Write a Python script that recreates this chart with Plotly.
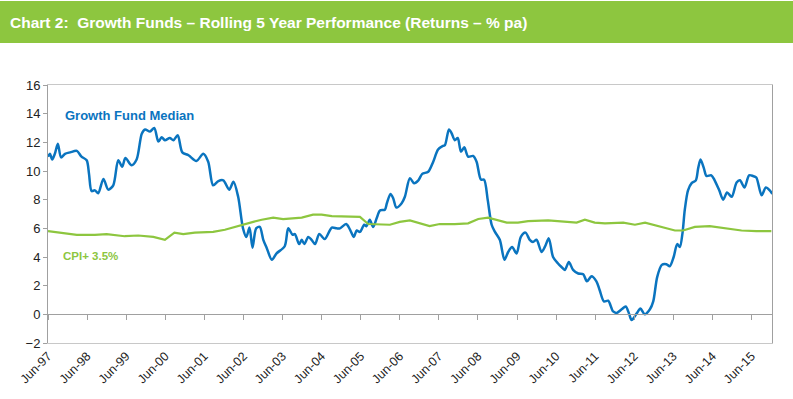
import plotly.graph_objects as go
import pandas as pd

# ---- data (months since Jun-1997, value % pa) ----
fund_months = [0, 0.6, 1.3, 2.1, 3.0, 4.0, 5.2, 6.8, 8.8, 10.3, 11.9, 12.6, 13.4, 14.4, 15.4, 17.0, 18.5, 20.0,
               21.6, 22.8, 23.8, 25.7, 27.2, 28.8, 29.8, 31.3, 32.6, 33.9, 34.9, 35.9, 37.4, 38.5, 39.8, 41.2,
               43.1, 45.6, 47.7, 49.2, 50.7, 52.3, 53.8, 55.6, 56.9, 58.4, 59.9, 60.9, 61.9, 62.8, 63.9, 65.0,
               66.1, 67.1, 68.7, 70.2, 72.7, 73.8, 75.1, 75.8, 77.1, 77.9, 78.7, 79.9, 80.9, 82.0, 83.3, 85.0,
               87.1, 88.6, 89.6, 91.5, 92.7, 93.9, 94.8, 95.8, 97.1, 97.8, 98.8, 99.8, 100.9, 101.9, 103.4,
               104.0, 105.2, 106.0, 107.0, 108.6, 109.6, 111.1, 112.4, 113.7, 114.9, 116.7, 118.3, 119.8,
               121.3, 121.9, 123.1, 123.9, 124.9, 125.8, 126.8, 127.8, 129.0, 130.5, 131.6, 132.9, 133.9,
               135.0, 136.2, 137.2, 138.7, 140.1, 141.3, 142.5, 143.9, 145.2, 146.6, 147.9, 148.9, 150.0,
               151.5, 152.5, 153.8, 155.1, 156.6, 157.7, 158.7, 159.9, 161.2, 162.8, 164.3, 165.5, 166.9,
               168.4, 169.4, 170.7, 172.0, 173.5, 174.6, 176.1, 177.4, 178.4, 179.2, 180.7, 181.9, 183.2,
               184.8, 185.8, 187.0, 188.4, 189.9, 190.9, 192.1, 193.2, 194.0, 194.8, 195.5, 196.5, 197.6,
               198.9, 199.6, 200.3, 201.4, 202.2, 203.7, 204.7, 206.1, 207.3, 208.5, 209.9, 211.4, 212.4,
               213.9, 215.3, 216.5, 217.5, 219.1, 220.4, 221.6, 222.4]
fund_values = [11.0, 11.2, 10.8, 11.2, 11.9, 10.95, 11.2, 11.3, 11.4, 11.0, 10.75, 9.8, 8.6, 8.65, 8.45, 9.45,
               8.7, 9.0, 10.75, 10.3, 10.9, 10.4, 10.8, 12.6, 12.9, 12.75, 13.0, 12.05, 12.35, 12.15, 12.3,
               12.15, 12.5, 11.3, 11.1, 10.7, 11.2, 10.65, 9.0, 9.3, 9.35, 8.7, 9.25, 8.2, 6.0, 5.4, 6.05,
               4.65, 6.0, 6.1, 5.2, 4.65, 3.8, 4.25, 4.75, 6.0, 5.55, 5.6, 4.9, 5.2, 4.9, 5.4, 5.2, 4.9, 5.6,
               5.25, 6.05, 6.0, 6.0, 6.3, 5.9, 5.4, 5.85, 5.75, 6.25, 6.15, 6.6, 6.1, 6.7, 7.25, 7.3, 7.75,
               8.4, 8.1, 7.45, 7.75, 8.2, 9.5, 9.15, 9.35, 9.8, 9.95, 10.65, 11.5, 11.75, 11.8, 12.9, 12.65,
               12.15, 12.3, 11.35, 11.65, 11.0, 11.05, 10.65, 9.4, 9.4, 7.95, 6.25, 5.75, 5.2, 3.8, 4.35, 4.7,
               4.25, 5.4, 5.7, 5.2, 5.05, 5.2, 4.35, 4.7, 5.3, 4.0, 3.55, 3.3, 3.1, 3.65, 3.1, 2.85, 2.8, 2.3,
               2.65, 2.3, 1.7, 0.9, 0.95, 0.2, 0.1, 0.35, 0.55, 0.05, -0.4, 0.05, 0.4, 0.0, 0.35, 0.9, 2.6,
               3.45, 3.5, 3.35, 4.0, 4.9, 4.7, 5.65, 7.3, 8.65, 9.15, 9.35, 10.2, 10.8, 10.2, 9.65, 9.7, 9.35,
               8.65, 8.0, 8.5, 8.2, 9.2, 9.35, 8.85, 9.7, 9.65, 9.55, 8.3, 8.85, 8.65, 8.4]

cpi_months = [0, 5.2, 8.8, 14.4, 18.0, 23.6, 27.7, 32.3, 35.9, 38.8, 41.5, 45.1, 50.7, 54.3, 59.5, 63.0, 65.6,
              69.2, 72.2, 77.9, 81.4, 84.0, 87.1, 91.7, 95.8, 98.3, 100.9, 105.0, 108.0, 111.1, 117.2, 120.3,
              124.9, 129.0, 132.1, 135.1, 140.8, 144.3, 147.4, 153.6, 162.3, 164.8, 167.9, 171.0, 176.6,
              180.2, 183.3, 187.9, 192.5, 195.0, 198.6, 203.2, 208.3, 212.9, 217.5, 222.1]
cpi_values = [5.8, 5.65, 5.55, 5.55, 5.6, 5.45, 5.5, 5.4, 5.2, 5.7, 5.6, 5.7, 5.75, 5.9, 6.25, 6.45, 6.6,
              6.75, 6.65, 6.75, 6.95, 6.95, 6.85, 6.85, 6.8, 6.3, 6.3, 6.25, 6.45, 6.55, 6.15, 6.3, 6.3,
              6.35, 6.65, 6.75, 6.4, 6.4, 6.5, 6.55, 6.4, 6.6, 6.4, 6.35, 6.4, 6.25, 6.4, 6.1, 5.85, 5.85,
              6.1, 6.15, 6.0, 5.85, 5.8, 5.8]

start_date = "1997-06-01"
end_months = 222.3
title_text = "Chart 2:  Growth Funds \u2013 Rolling 5 Year Performance (Returns \u2013 % pa)"
fund_label = "Growth Fund Median"
cpi_label = "CPI+ 3.5%"

BLUE = "#0A74BF"
GREEN = "#8DC63F"
AXIS = "#A0A0A0"


def to_dates(months):
    base = pd.Timestamp(start_date)
    out = []
    for m in months:
        whole = int(m)
        d = base + pd.DateOffset(months=whole) + pd.Timedelta(days=(m - whole) * 30.4)
        out.append(d)
    return out


fund_x = to_dates(fund_months)
cpi_x = to_dates(cpi_months)
x_end = to_dates([end_months])[0]

W, H = 793, 399
ML, MR, MT, MB = 48, 21, 85, 56
pw, ph = W - ML - MR, H - MT - MB


def px_x(x):
    return (x - ML) / pw


def px_y(y):
    return (H - MB - y) / ph


fig = go.Figure()
fig.add_trace(go.Scatter(x=fund_x, y=fund_values, mode="lines",
                         line=dict(color=BLUE, width=2.5, shape="spline", smoothing=0.8),
                         hoverinfo="skip", showlegend=False))
fig.add_trace(go.Scatter(x=cpi_x, y=cpi_values, mode="lines", xaxis="x2",
                         line=dict(color=GREEN, width=2.2),
                         hoverinfo="skip", showlegend=False))

# title bar
fig.add_shape(type="rect", xref="paper", yref="paper",
              x0=px_x(0), x1=px_x(W), y0=px_y(43), y1=px_y(1),
              fillcolor=GREEN, line_width=0, layer="below")
fig.add_annotation(text=title_text, xref="paper", yref="paper",
                   x=px_x(8), y=px_y(22), xanchor="left", yanchor="middle",
                   showarrow=False,
                   font=dict(family="Liberation Sans Narrow, Liberation Sans, Arial",
                             size=15.5, color="white", weight="bold"))
fig.add_annotation(text=fund_label, xref="paper", yref="paper",
                   x=px_x(63), y=px_y(115), xanchor="left", yanchor="middle",
                   showarrow=False,
                   font=dict(family="Liberation Sans, Arial", size=13, color=BLUE, weight="bold"))
fig.add_annotation(text=cpi_label, xref="paper", yref="paper",
                   x=px_x(61), y=px_y(256), xanchor="left", yanchor="middle",
                   showarrow=False,
                   font=dict(family="Liberation Sans, Arial", size=11.5,
                             color=GREEN, weight="bold"))

xr = [pd.Timestamp(start_date), x_end]
fig.update_layout(
    width=W, height=H, autosize=False,
    margin=dict(l=ML, r=MR, t=MT, b=MB, autoexpand=False),
    paper_bgcolor="white", plot_bgcolor="white",
    font=dict(family="Liberation Sans, Arial", color="#222222"),
    xaxis=dict(type="date", range=xr, tick0=start_date, dtick="M12", tickformat="%b-%y",
               tickangle=-45, ticks="", showgrid=False, zeroline=False,
               showline=True, linecolor="#C8C8C8", linewidth=1, mirror=True,
               tickfont=dict(size=12.5, color="#222222")),
    xaxis2=dict(type="date", range=xr, tick0=start_date, dtick="M12", overlaying="x",
                anchor="free", position=2 / 18, ticks="outside", ticklen=5, tickcolor=AXIS,
                showticklabels=False, showgrid=False, zeroline=False,
                showline=True, linecolor=AXIS, linewidth=1),
    yaxis=dict(range=[-2, 16], dtick=2, ticks="outside", ticklen=4, tickcolor=AXIS,
               showgrid=False, zeroline=False, showline=True, linecolor=AXIS, linewidth=1,
               mirror=True, tickfont=dict(size=13, color="#222222")),
)

fig.write_html("out.html", config={"displayModeBar": False, "staticPlot": True},
               post_script="document.body.style.margin='0';document.body.style.overflow='hidden';")
